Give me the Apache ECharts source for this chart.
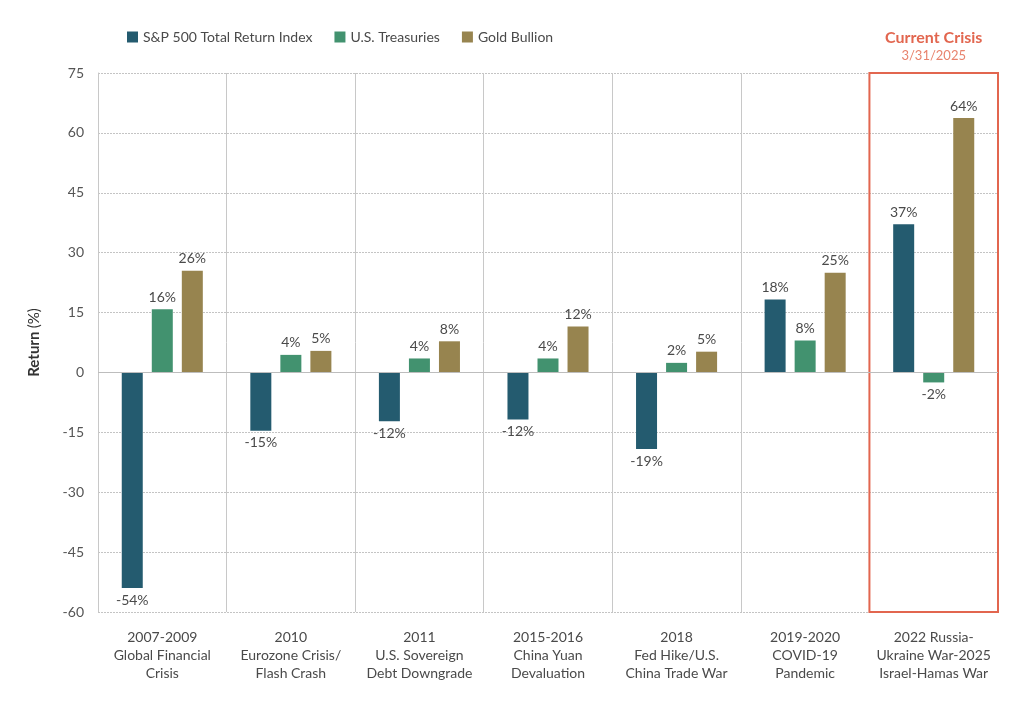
<!DOCTYPE html>
<html>
<head>
<meta charset="utf-8">
<script src="https://cdn.jsdelivr.net/npm/echarts@6/dist/echarts.min.js"></script>
<style>html,body{margin:0;padding:0;background:#fff;}#c{width:1024px;height:706px;}</style>
</head>
<body>
<div id="c"></div>
<script>
var categories = [
  "2007-2009\nGlobal Financial\nCrisis",
  "2010\nEurozone Crisis/\nFlash Crash",
  "2011\nU.S. Sovereign\nDebt Downgrade",
  "2015-2016\nChina Yuan\nDevaluation",
  "2018\nFed Hike/U.S.\nChina Trade War",
  "2019-2020\nCOVID-19\nPandemic",
  "2022 Russia-\nUkraine War-2025\nIsrael-Hamas War"
];
var seriesNames = ["S&P 500 Total Return Index", "U.S. Treasuries", "Gold Bullion"];
var sp500 = [-54.0, -14.6, -12.2, -11.8, -19.2, 18.3, 37.1];
var treasuries = [15.8, 4.4, 3.5, 3.5, 2.4, 8.0, -2.5];
var gold = [25.5, 5.4, 7.8, 11.5, 5.2, 25.0, 63.7];
var yTicks = {min: -60, max: 75, interval: 15};
var crisisTitle = "Current Crisis";
var crisisDate = "3/31/2025";
var crisisIndex = categories.length - 1;

var colors = ["#245b6f", "#42926f", "#97844f"];
var font = "Lato, 'Open Sans', sans-serif";

function toData(arr) {
  return arr.map(function (v) {
    return {value: v, label: {position: v < 0 ? 'bottom' : 'top'}};
  });
}
function barSeries(name, arr, color) {
  return {
    name: name, type: 'bar', data: toData(arr), barWidth: 21, barGap: '43%',
    itemStyle: {color: color},
    label: {show: true, fontFamily: font, fontSize: 14, color: '#4a4a4a', distance: 5,
      formatter: function (p) { return Math.round(p.value) + '%'; }},
    emphasis: {disabled: true}
  };
}

var chart = echarts.init(document.getElementById('c'));
var series = [
  barSeries(seriesNames[0], sp500, colors[0]),
  barSeries(seriesNames[1], treasuries, colors[1]),
  barSeries(seriesNames[2], gold, colors[2])
];
series[0].markLine = {
  silent: true, symbol: 'none', label: {show: false},
  lineStyle: {color: '#bdbdbd', type: 'solid', width: 1},
  data: [{yAxis: 0}]
};
series.push({
  type: 'scatter', xAxisIndex: 1, data: [], silent: true,
  markArea: {
    silent: true,
    itemStyle: {color: 'rgba(0,0,0,0)', borderColor: '#e2664f', borderWidth: 2},
    label: {
      show: true, position: 'top', distance: 8,
      formatter: '{a|' + crisisTitle + '}\n{b|' + crisisDate + '}',
      rich: {
        a: {fontFamily: font, fontSize: 16, fontWeight: 'bold', color: '#e2664f', lineHeight: 19, align: 'center'},
        b: {fontFamily: font, fontSize: 13, color: '#e8836d', lineHeight: 17, align: 'center'}
      }
    },
    data: [[{xAxis: crisisIndex, yAxis: yTicks.max}, {xAxis: crisisIndex + 1, yAxis: yTicks.min}]]
  }
});

chart.setOption({
  backgroundColor: '#ffffff',
  animation: false,
  color: colors,
  legend: {
    data: seriesNames, left: 122, top: 25, itemWidth: 11, itemHeight: 11, itemGap: 22,
    icon: 'rect',
    textStyle: {fontFamily: font, fontSize: 14, color: '#4a4a4a'}
  },
  grid: {left: 98, right: 26, top: 73, bottom: 94},
  xAxis: [{
    type: 'category', data: categories,
    axisLine: {show: false, onZero: false}, axisTick: {show: false},
    splitLine: {show: true, lineStyle: {color: '#c8c8c8', width: 1}},
    axisLabel: {fontFamily: font, fontSize: 14, color: '#4a4a4a', lineHeight: 18, margin: 16, interval: 0}
  }, {
    type: 'value', min: 0, max: categories.length, show: false
  }],
  yAxis: {
    type: 'value', min: yTicks.min, max: yTicks.max, interval: yTicks.interval,
    name: '{b|Return} {n|(%)}', nameLocation: 'middle', nameGap: 56, nameRotate: 90,
    nameTextStyle: {rich: {
      b: {fontFamily: font, fontSize: 15, fontWeight: 'bold', color: '#333'},
      n: {fontFamily: font, fontSize: 15, color: '#333'}
    }},
    axisLine: {show: true, lineStyle: {color: '#c8c8c8'}},
    axisTick: {show: false},
    axisLabel: {fontFamily: font, fontSize: 14, color: '#555', margin: 14},
    splitLine: {show: true, lineStyle: {color: '#c4c4c4', type: [2, 1], width: 1}}
  },
  series: series
});
</script>
</body>
</html>
